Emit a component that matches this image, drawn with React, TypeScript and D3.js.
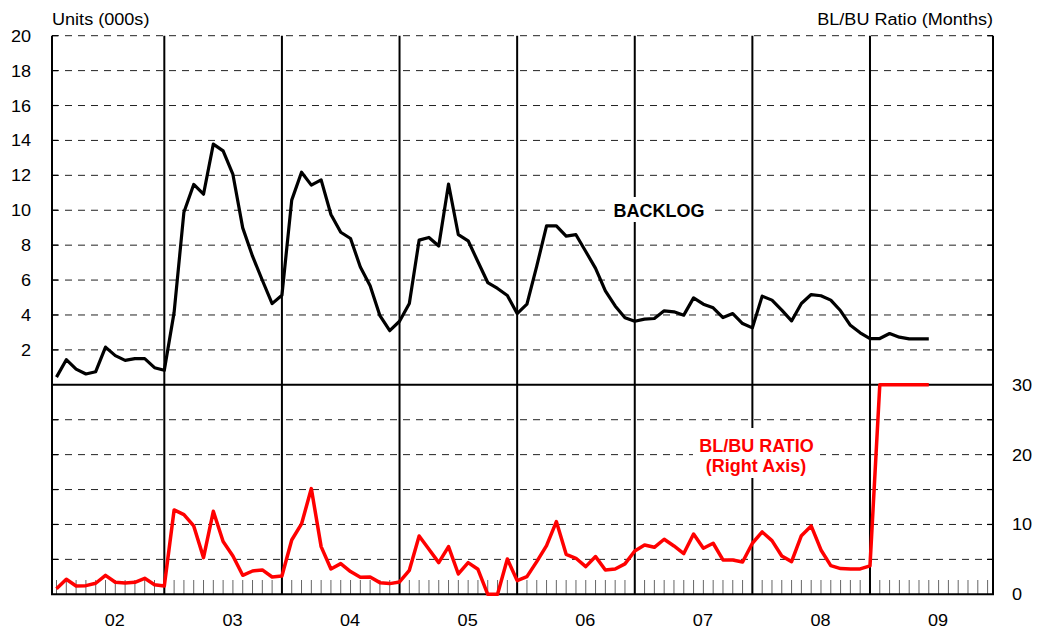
import React from "react";
import * as d3 from "d3";

const yearLabels = ["02", "03", "04", "05", "06", "07", "08", "09"];
const leftTicks = [2, 4, 6, 8, 10, 12, 14, 16, 18, 20];
const rightTicks = [0, 10, 20, 30];

// monthly values, month index 1..90 (month 0 = start of 2002)
const backlog = [
  0.44, 1.44, 0.9, 0.62, 0.75, 2.16, 1.67, 1.4, 1.5, 1.5, 0.98, 0.83,
  4.15, 9.89, 11.48, 10.92, 13.79, 13.4, 12.05, 8.99, 7.37, 5.99, 4.65, 5.13,
  10.58, 12.18, 11.44, 11.74, 9.76, 8.74, 8.38, 6.75, 5.68, 3.96, 3.1, 3.64,
  4.66, 8.29, 8.44, 7.95, 11.5, 8.6, 8.25, 7.05, 5.86, 5.52, 5.12, 4.08,
  4.62, 6.8, 9.11, 9.11, 8.52, 8.6, 7.64, 6.67, 5.38, 4.52, 3.84, 3.64,
  3.76, 3.8, 4.24, 4.18, 3.99, 4.98, 4.62, 4.41, 3.85, 4.08, 3.51, 3.26,
  5.08, 4.85, 4.28, 3.66, 4.66, 5.17, 5.1, 4.85, 4.24, 3.41, 2.98, 2.65,
  2.65, 2.94, 2.73, 2.63, 2.63, 2.63,
];
const ratio = [
  0.81, 2.15, 1.19, 1.24, 1.58, 2.72, 1.72, 1.62, 1.72, 2.29, 1.38, 1.19,
  12.08, 11.41, 9.79, 5.25, 11.89, 7.55, 5.49, 2.72, 3.34, 3.49, 2.48, 2.63,
  7.78, 10.08, 15.14, 6.83, 3.63, 4.39, 3.25, 2.44, 2.48, 1.67, 1.53, 1.77,
  3.44, 8.36, 6.45, 4.54, 6.83, 2.91, 4.54, 3.58, 0, 0, 5.06, 1.96,
  2.53, 4.68, 6.97, 10.41, 5.73, 5.16, 3.96, 5.4, 3.49, 3.63, 4.35, 6.21,
  7.07, 6.73, 7.88, 6.92, 5.83, 8.64, 6.59, 7.31, 4.92, 4.92, 4.63, 7.31,
  8.93, 7.69, 5.49, 4.68, 8.4, 9.79, 6.35, 4.11, 3.68, 3.63, 3.63, 4.06,
  30, 30, 30, 30, 30, 30,
];

const W = 1039;
const H = 631;
const L = 52;
const R = 993;
const T = 35.7;
const B = 594.3;
const MID = 384.8;
const FONT = "'Liberation Sans', Arial, Helvetica, sans-serif";
const SX = 1.13;

export default function App() {
  const x = d3.scaleLinear().domain([0, 96]).range([46.7, 987.6]);
  const yL = d3.scaleLinear().domain([0, 20]).range([MID, T]);
  const yR = d3.scaleLinear().domain([0, 30]).range([B, MID]);

  const lineL = d3
    .line<number>()
    .x((_, i) => x(i + 1))
    .y((d) => yL(d));
  const lineR = d3
    .line<number>()
    .x((_, i) => x(i + 1))
    .y((d) => yR(d));

  const gridYs: number[] = [];
  for (let v = 2; v <= 20; v += 2) gridYs.push(yL(v));
  for (let v = 5; v < 30; v += 5) gridYs.push(yR(v));

  const months = d3.range(1, 97);
  const years = d3.range(1, 8).map((k) => k * 12);

  const stretched = (
    tx: number,
    ty: number,
    txt: string,
    anchor: "start" | "middle" | "end",
    key: string
  ) => (
    <text
      key={key}
      transform={`translate(${tx},${ty}) scale(${SX},1)`}
      textAnchor={anchor}
      fontSize={16}
      fontFamily={FONT}
      fill="#000"
    >
      {txt}
    </text>
  );

  return (
    <svg
      width={W}
      height={H}
      style={{ position: "absolute", left: 0, top: 0, background: "#fff" }}
    >
      <rect x={0} y={0} width={W} height={H} fill="#fff" />
      {/* dashed grid */}
      {gridYs.map((gy, i) => (
        <line
          key={"g" + i}
          x1={L}
          x2={R}
          y1={gy}
          y2={gy}
          stroke="#222"
          strokeWidth={1}
          strokeDasharray="7,6"
        />
      ))}
      {/* inner ticks on both side axes */}
      {gridYs.map((gy, i) => (
        <g key={"t" + i}>
          <line x1={L} x2={L + 6} y1={gy} y2={gy} stroke="#000" strokeWidth={1.2} />
          <line x1={R - 6} x2={R} y1={gy} y2={gy} stroke="#000" strokeWidth={1.2} />
        </g>
      ))}
      {/* monthly ticks */}
      {months.map((m) => (
        <line
          key={"m" + m}
          x1={x(m)}
          x2={x(m)}
          y1={580}
          y2={B}
          stroke="#666"
          strokeWidth={1}
        />
      ))}
      {/* year lines */}
      {years.map((m) => (
        <line
          key={"y" + m}
          x1={x(m)}
          x2={x(m)}
          y1={T}
          y2={B}
          stroke="#000"
          strokeWidth={2}
        />
      ))}
      {/* frame */}
      <line x1={L} x2={L} y1={T} y2={B} stroke="#000" strokeWidth={2} />
      <line x1={R} x2={R} y1={T} y2={B} stroke="#000" strokeWidth={2} />
      <line x1={L} x2={R} y1={MID} y2={MID} stroke="#000" strokeWidth={2} />
      <line x1={L - 1} x2={R + 1} y1={B} y2={B} stroke="#000" strokeWidth={2} />

      {/* label backgrounds */}
      <rect x={608} y={197} width={102} height={25} fill="#fff" />
      <rect x={693} y={428} width={127} height={50} fill="#fff" />

      {/* series */}
      <path
        d={lineL(backlog) || ""}
        fill="none"
        stroke="#000"
        strokeWidth={3.2}
        strokeLinejoin="round"
      />
      <path
        d={lineR(ratio) || ""}
        fill="none"
        stroke="#ff0000"
        strokeWidth={3.5}
        strokeLinejoin="round"
      />

      {/* series labels */}
      <text
        x={659}
        y={216.5}
        textAnchor="middle"
        fontSize={18}
        fontWeight="bold"
        fontFamily={FONT}
        fill="#000"
      >
        BACKLOG
      </text>
      <text
        x={756.5}
        y={451.5}
        textAnchor="middle"
        fontSize={18}
        fontWeight="bold"
        fontFamily={FONT}
        fill="#ff0000"
      >
        BL/BU RATIO
      </text>
      <text
        x={756}
        y={472}
        textAnchor="middle"
        fontSize={18}
        fontWeight="bold"
        fontFamily={FONT}
        fill="#ff0000"
      >
        (Right Axis)
      </text>

      {/* axis labels */}
      {leftTicks.map((v) => stretched(31, yL(v) + 6, String(v), "end", "l" + v))}
      {rightTicks.map((v) => stretched(1012, yR(v) + 6, String(v), "start", "r" + v))}
      {yearLabels.map((lab, i) =>
        stretched(x(i * 12 + 7) - 0.5, 626, lab, "middle", "x" + lab)
      )}
      {stretched(L, 25, "Units (000s)", "start", "tl")}
      {stretched(R, 25, "BL/BU Ratio (Months)", "end", "tr")}
    </svg>
  );
}
